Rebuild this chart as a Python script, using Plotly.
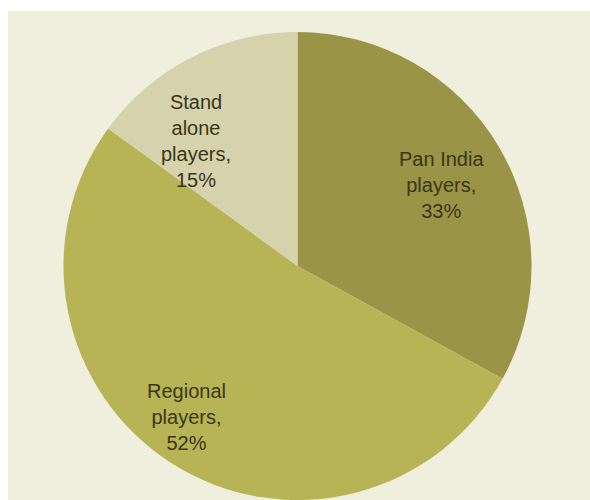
import math
import plotly.graph_objects as go

categories = ["Pan India players", "Regional players", "Stand alone players"]
label_text = ["Pan India<br>players,", "Regional<br>players,", "Stand<br>alone<br>players,"]
values = [33, 52, 15]
colors = ["#9A9446", "#B7B455", "#D5D2AC"]

# label placement style (radial fraction, angular nudge in degrees)
label_radius = [0.705, 0.80, 0.69]
label_nudge = [1.2, 3.8, -12]

W, H = 590, 500
cx, cy, r = 297.5, 266, 234

fig = go.Figure()
fig.add_trace(go.Pie(
    labels=categories,
    values=values,
    textinfo="none",
    sort=False,
    direction="clockwise",
    rotation=0,
    marker=dict(colors=colors, line=dict(width=0)),
    showlegend=False,
    hoverinfo="label+percent",
    domain=dict(x=[(cx - r) / W, (cx + r) / W], y=[(H - cy - r) / H, (H - cy + r) / H]),
))

total = sum(values)
cum = 0
annotations = []
for i, v in enumerate(values):
    theta = math.radians((cum + v / 2) / total * 360 + label_nudge[i])
    cum += v
    px = cx + label_radius[i] * r * math.sin(theta)
    py = cy - label_radius[i] * r * math.cos(theta)
    annotations.append(dict(
        x=px / W, y=1 - py / H, xref="paper", yref="paper",
        text=f"{label_text[i]}<br>{round(v / total * 100)}%",
        showarrow=False, xanchor="center", yanchor="middle", align="center",
        font=dict(family="Liberation Sans, Arial, sans-serif", size=20, color="#3A3518"),
    ))

fig.update_layout(
    width=W, height=H,
    margin=dict(l=0, r=0, t=0, b=0),
    paper_bgcolor="white",
    annotations=annotations,
    shapes=[dict(type="rect", xref="paper", yref="paper", x0=8 / W, x1=1, y0=0, y1=1 - 11 / H,
                 fillcolor="#F0EEDC", line=dict(width=0), layer="below")],
)
fig.write_html("out.html")
